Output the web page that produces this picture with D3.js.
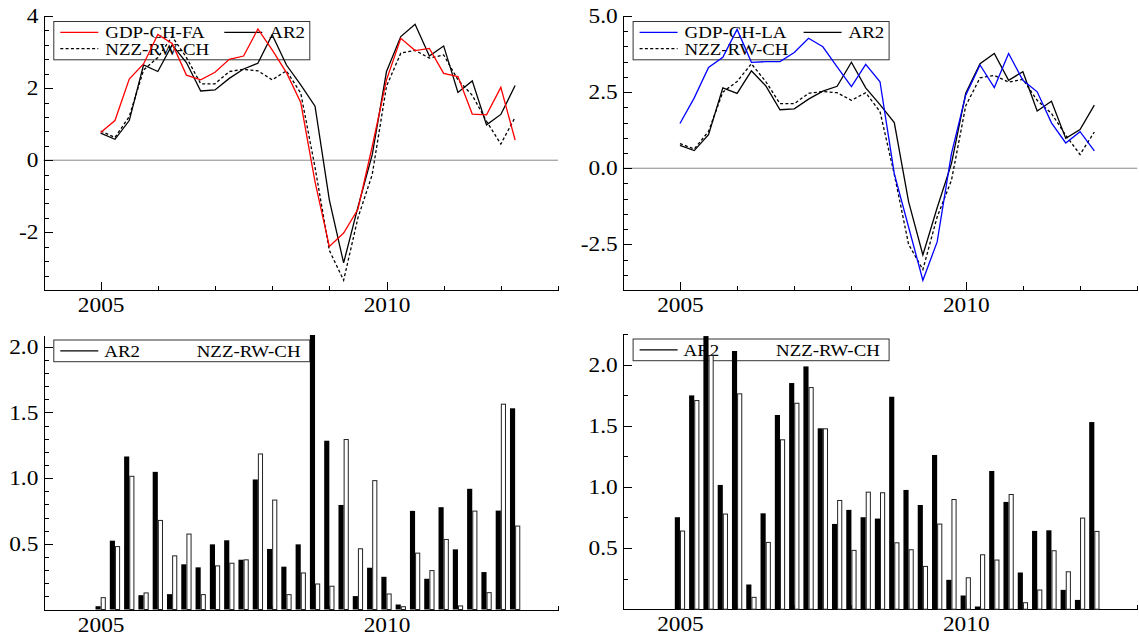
<!DOCTYPE html>
<meta charset="utf-8">
<style>
  body { margin: 0; background: #fff; }
  svg { display: block; }
  text { font-family: "Liberation Serif", "DejaVu Serif", serif; fill: #000; }
  .axis path, .axis line { stroke: #000; shape-rendering: crispEdges; }
</style>
<body>
<script src="https://d3js.org/d3.v7.min.js"></script>
<script>
  // quarterly observations
  const quarters = ["2005Q1", "2005Q2", "2005Q3", "2005Q4", "2006Q1", "2006Q2", "2006Q3", "2006Q4",
                    "2007Q1", "2007Q2", "2007Q3", "2007Q4", "2008Q1", "2008Q2", "2008Q3", "2008Q4",
                    "2009Q1", "2009Q2", "2009Q3", "2009Q4", "2010Q1", "2010Q2", "2010Q3", "2010Q4",
                    "2011Q1", "2011Q2", "2011Q3", "2011Q4", "2012Q1", "2012Q2"];

  const gdpFA = [0.77, 1.10, 2.25, 2.67, 3.49, 3.24, 2.36, 2.23, 2.44, 2.80, 2.89, 3.64, 3.06, 2.43, 1.60,
                 -0.60, -2.39, -2.02, -1.36, 0.38, 2.23, 3.38, 3.04, 3.10, 2.41, 2.32, 1.28, 1.26, 2.02, 0.56];
  const gdpLA = [1.47, 2.31, 3.31, 3.64, 4.56, 3.48, 3.50, 3.50, 3.80, 4.27, 3.99, 3.33, 2.68, 3.41, 2.84,
                 -0.18, -1.93, -3.68, -2.42, 0.48, 2.40, 3.39, 2.65, 3.77, 2.89, 2.51, 1.49, 0.83, 1.20, 0.57];
  const ar2 = [0.75, 0.58, 1.10, 2.64, 2.46, 3.20, 2.71, 1.92, 1.95, 2.27, 2.53, 2.69, 3.48, 2.64, 2.09,
               1.50, -1.10, -2.85, -1.30, 0.15, 2.46, 3.43, 3.77, 2.89, 3.17, 1.88, 2.20, 0.98, 1.27, 2.07];
  const nzz = [0.81, 0.63, 1.21, 2.50, 2.85, 3.43, 2.85, 2.12, 2.12, 2.46, 2.52, 2.48, 2.23, 2.48, 1.86,
               -0.20, -2.50, -3.33, -1.60, -0.40, 2.05, 2.97, 3.05, 2.83, 2.92, 2.23, 1.80, 1.08, 0.45, 1.19];

  // absolute errors (bottom panels)
  const ar2ErrFA = [0.025, 0.524, 1.165, 0.109, 1.048, 0.117, 0.344, 0.321, 0.496, 0.527, 0.379, 0.990, 0.461, 0.326, 0.496,
                    2.09, 1.285, 0.796, 0.102, 0.318, 0.249, 0.038, 0.751, 0.234, 0.779, 0.458, 0.919, 0.285, 0.753, 1.532];
  const nzzErrFA = [0.094, 0.483, 1.018, 0.130, 0.682, 0.412, 0.578, 0.117, 0.336, 0.356, 0.382, 1.188, 0.837, 0.117, 0.282,
                    0.198, 0.181, 1.298, 0.466, 0.985, 0.122, 0.025, 0.433, 0.300, 0.537, 0.031, 0.753, 0.132, 1.567, 0.639];
  const ar2ErrLA = [0.752, 1.748, 2.233, 1.016, 2.111, 0.202, 0.784, 1.588, 1.849, 1.985, 1.479, 0.697, 0.812, 0.752, 0.741,
                    1.737, 0.975, 0.852, 1.261, 0.240, 0.112, 0.022, 1.130, 0.877, 0.300, 0.640, 0.645, 0.158, 0.076, 1.530];
  const nzzErrLA = [0.643, 1.710, 2.078, 0.782, 1.765, 0.101, 0.550, 1.389, 1.688, 1.816, 1.479, 0.893, 0.485, 0.961, 0.956,
                    0.547, 0.490, 0.354, 0.700, 0.901, 0.261, 0.449, 0.406, 0.942, 0.057, 0.161, 0.482, 0.310, 0.749, 0.640];

  const xMajor = [2005, 2010];
  const xMinor = [2006, 2007, 2008, 2009, 2011, 2012, 2013];

  const toYear = q => +q.slice(0, 4) + (+q.slice(5) - 1) / 4;
  const years = quarters.map(toYear);

  const svg = d3.select("body").append("svg")
      .attr("width", 1139)
      .attr("height", 637);

  const TICK_FS = 20.3, TICK_SX = 1.15;
  const LEG_FS = 17.5, LEG_SX = 1.08;

  function drawAxes(x, y, yMajor, yMinor, fmt) {
      const base = y.range()[0];
      const left = x.range()[0];

      svg.append("g").attr("class", "axis")
          .attr("transform", `translate(0,${base})`)
          .call(d3.axisBottom(x).tickValues(xMinor).tickSize(-4).tickSizeOuter(0).tickFormat(""));

      const gx = svg.append("g").attr("class", "axis")
          .attr("transform", `translate(0,${base})`)
          .call(d3.axisBottom(x).tickValues(xMajor).tickSize(-8).tickSizeOuter(0)
              .tickPadding(7.6).tickFormat(d3.format("d")));
      gx.attr("font-size", TICK_FS).attr("font-family", null);

      const gyMinor = svg.append("g").attr("class", "axis")
          .attr("transform", `translate(${left},0)`)
          .call(d3.axisLeft(y).tickValues(yMinor).tickSize(-5).tickSizeOuter(0).tickFormat(""));
      gyMinor.select(".domain").remove();

      const gy = svg.append("g").attr("class", "axis")
          .attr("transform", `translate(${left},0)`)
          .call(d3.axisLeft(y).tickValues(yMajor).tickSize(-9).tickSizeOuter(0)
              .tickPadding(4.5).tickFormat(fmt));
      gy.attr("font-size", TICK_FS).attr("font-family", null);

      svg.selectAll(".axis text").attr("transform", `scale(${TICK_SX},1)`);
  }

  function legendText(g, tx, ty, label) {
      g.append("text")
          .attr("transform", `translate(${tx},${ty}) scale(${LEG_SX},1)`)
          .attr("font-size", LEG_FS)
          .text(label);
  }

  function drawLegend(x0, y0, h, rows) {
      const g = svg.append("g").attr("transform", `translate(${x0},${y0})`);
      g.append("rect")
          .attr("x", 0.5).attr("y", 0.5)
          .attr("width", 256).attr("height", h)
          .attr("fill", "#fff")
          .attr("stroke", "#333");
      rows.forEach(r => {
          if (r.line) {
              g.append("line")
                  .attr("x1", r.lx).attr("x2", r.lx + 38)
                  .attr("y1", r.ly).attr("y2", r.ly)
                  .attr("stroke", r.color)
                  .attr("stroke-width", 1.2)
                  .attr("stroke-dasharray", r.dash || null);
          }
          legendText(g, r.tx, r.ly + 6, r.label);
      });
  }

  function rangeStep(a, b, s, skip) {
      const out = [];
      for (let k = 0; a + k * s <= b + 1e-9; k++) {
          const v = +(a + k * s).toFixed(4);
          if (!skip.some(m => Math.abs(m - v) < 1e-6)) out.push(v);
      }
      return out;
  }

  // ---------- top panels (levels) ----------
  function linePanel(xr, yDomain, yMajor, yMinorStep, fmt, gdp, gdpLabel, gdpColor) {
      const x = d3.scaleLinear().domain([2004, 2013]).range(xr);
      const y = d3.scaleLinear().domain(yDomain).range([290, 16]);

      drawLegend(xr[0] + 9.8, 21, 38.3, [
          {line: true, lx: 7, ly: 11.3, tx: 52, label: gdpLabel, color: gdpColor},
          {line: true, lx: 171, ly: 11.3, tx: 216, label: "AR2", color: "#000"},
          {line: true, lx: 7, ly: 27.7, tx: 52, label: "NZZ-RW-CH", color: "#000", dash: "3,2.3"}
      ]);

      svg.append("line")
          .attr("x1", xr[0]).attr("x2", xr[1])
          .attr("y1", y(0)).attr("y2", y(0))
          .attr("stroke", "#888");

      const line = d3.line().x((d, i) => x(years[i])).y(d => y(d));
      const series = [
          {vals: nzz, color: "#000", dash: "3,2.3"},
          {vals: ar2, color: "#000"},
          {vals: gdp, color: gdpColor}
      ];
      series.forEach(s => {
          svg.append("path")
              .datum(s.vals)
              .attr("d", line)
              .attr("fill", "none")
              .attr("stroke", s.color)
              .attr("stroke-width", 1.3)
              .attr("stroke-dasharray", s.dash || null);
      });

      drawAxes(x, y, yMajor, rangeStep(yDomain[0], yDomain[1], yMinorStep, yMajor), fmt);
  }

  linePanel([43.5, 558], [-3.6, 4], [-2, 0, 2, 4], 0.4, d => d3.format("d")(d).replace("−", "-"),
            gdpFA, "GDP-CH-FA", "#ff0000");
  linePanel([622.8, 1137.2], [-4, 5], [-2.5, 0, 2.5, 5], 0.5, d => d3.format(".1f")(d).replace("−", "-"),
            gdpLA, "GDP-CH-LA", "#0000ff");

  // ---------- bottom panels (absolute errors) ----------
  function barPanel(xr, yr, yDomain, yMinorStep, arErr, nzErr) {
      const x = d3.scaleLinear().domain([2004, 2013]).range(xr);
      const y = d3.scaleLinear().domain(yDomain).range(yr);
      const yMajor = [0.5, 1.0, 1.5, 2.0];

      drawAxes(x, y, yMajor, rangeStep(yMinorStep, yDomain[1], yMinorStep, yMajor), d3.format(".1f"));

      drawLegend(xr[0] + 9.8, yr[1] + 4.5, 21.7, [
          {line: true, lx: 7, ly: 11.4, tx: 51, label: "AR2", color: "#000"},
          {line: false, lx: 0, ly: 11.4, tx: 143.4, label: "NZZ-RW-CH"}
      ]);

      const bw = (x(2005.25) - x(2005)) * 0.36;
      const base = y(0);

      svg.append("g").selectAll("rect")
          .data(arErr)
          .join("rect")
          .attr("x", (d, i) => x(years[i]) - bw)
          .attr("y", d => y(d))
          .attr("width", bw)
          .attr("height", d => base - y(d))
          .attr("fill", "#000");

      svg.append("g").selectAll("rect")
          .data(nzErr)
          .join("rect")
          .attr("x", (d, i) => x(years[i]) + 0.5)
          .attr("y", d => y(d) + 0.5)
          .attr("width", bw - 1)
          .attr("height", d => Math.max(0, base - y(d) - 0.5))
          .attr("fill", "#fff")
          .attr("stroke", "#222")
          .attr("stroke-width", 1);
  }

  barPanel([43.5, 558], [609.5, 335], [0, 2.09], 0.1, ar2ErrFA, nzzErrFA);
  barPanel([622.8, 1137.2], [609.2, 334], [0, 2.25], 0.25, ar2ErrLA, nzzErrLA);
</script>
